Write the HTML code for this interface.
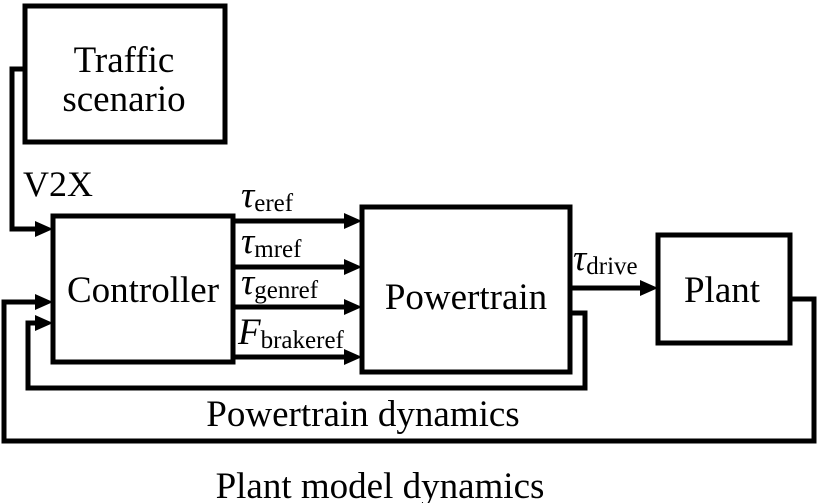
<!DOCTYPE html>
<html><head><style>body{margin:0;background:#fff}svg{display:block}text{font-family:"Liberation Serif",serif;fill:#000}</style></head>
<body>
<svg width="819" height="503" viewBox="0 0 819 503">
<g fill="none" stroke="#000" stroke-width="5">
<rect x="25" y="6" width="200" height="136"/>
<rect x="53" y="216" width="180" height="146"/>
<rect x="362" y="207" width="208" height="165"/>
<rect x="658" y="235" width="132" height="108"/>
<polyline points="25,69 12,69 12,229 36,229"/>
<polyline points="233,221 345,221"/>
<polyline points="233,267 345,267"/>
<polyline points="233,307 345,307"/>
<polyline points="233,357 345,357"/>
<polyline points="570,288 640,288"/>
<polyline points="790,299 814,299 814,441 4,441 4,302 36,302"/>
<polyline points="570,313 585,313 585,388 28,388 28,323 36,323"/>
</g>
<g>
<path d="M53,229l-18,-8v16z"/>
<path d="M53,302l-18,-8v16z"/>
<path d="M53,323l-18,-8v16z"/>
<path d="M362,221l-18,-8v16z"/>
<path d="M362,267l-18,-8v16z"/>
<path d="M362,307l-18,-8v16z"/>
<path d="M362,357l-18,-8v16z"/>
<path d="M658,288l-18,-8v16z"/>
</g>
<g font-size="37" text-anchor="middle">
<text x="124" y="72">Traffic</text>
<text x="124" y="111">scenario</text>
<text x="143" y="302">Controller</text>
<text x="466" y="309">Powertrain</text>
<text x="722" y="302">Plant</text>
<text x="363" y="426">Powertrain dynamics</text>
<text x="380" y="498">Plant model dynamics</text>
</g>
<text x="23" y="196" font-size="36">V2X</text>
<g font-size="37" font-style="italic">
<text x="241" y="207">τ<tspan font-size="25" font-style="normal" dy="4">eref</tspan></text>
<text x="241" y="253">τ<tspan font-size="25" font-style="normal" dy="4">mref</tspan></text>
<text x="241" y="294">τ<tspan font-size="25" font-style="normal" dy="4">genref</tspan></text>
<text x="238" y="344">F<tspan font-size="25" font-style="normal" dy="4">brakeref</tspan></text>
<text x="573" y="270">τ<tspan font-size="25" font-style="normal" dy="4">drive</tspan></text>
</g>
</svg>
</body></html>
